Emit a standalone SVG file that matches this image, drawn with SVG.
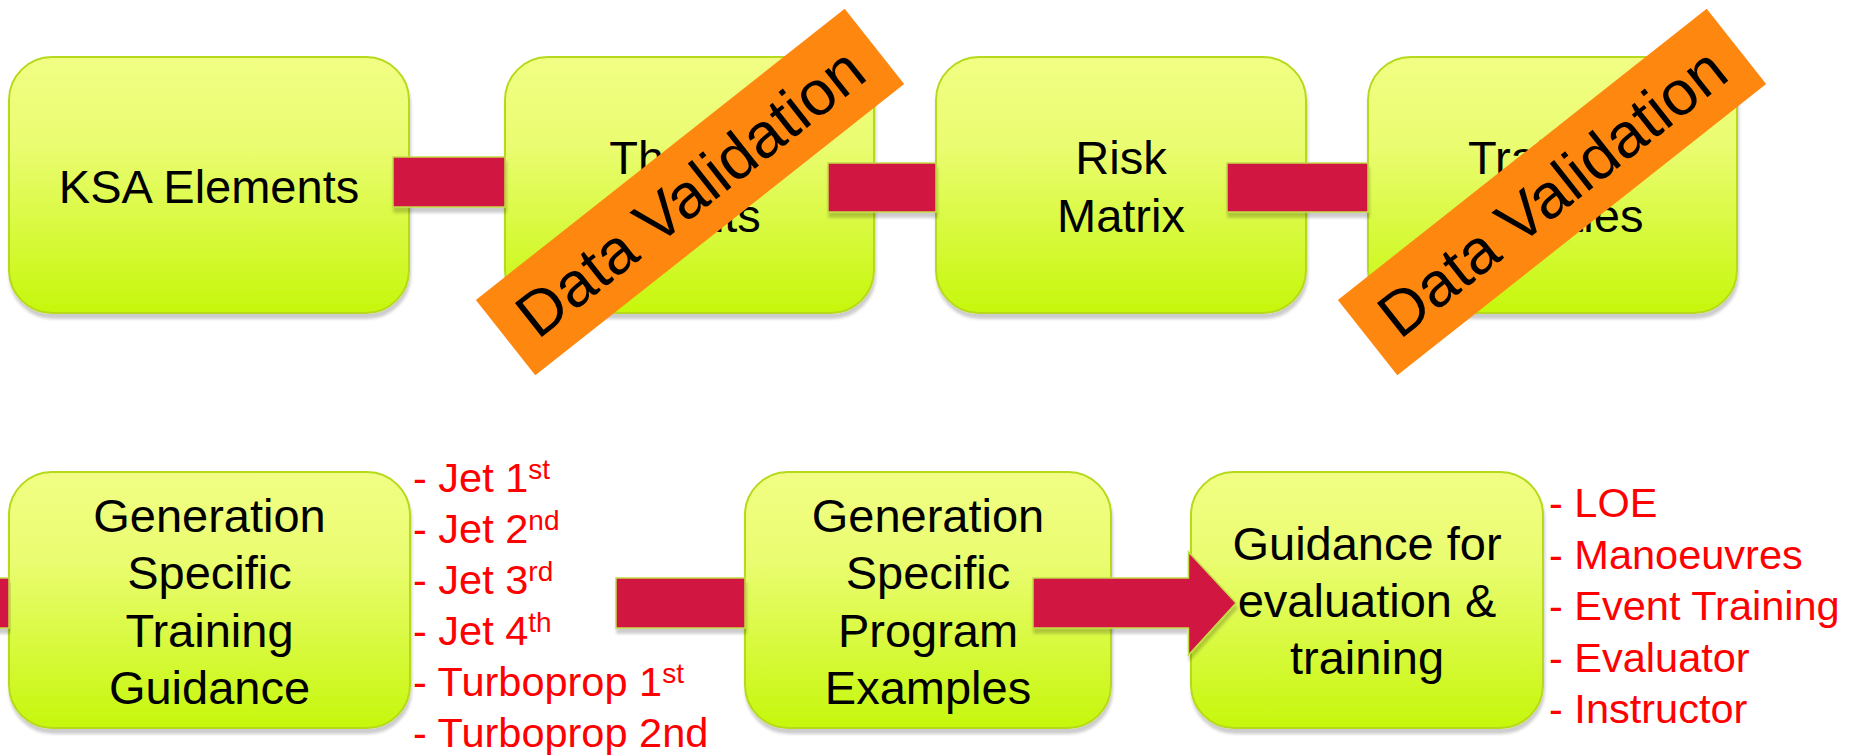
<svg xmlns="http://www.w3.org/2000/svg" width="1852" height="756" viewBox="0 0 1852 756">
<defs>
<linearGradient id="lime" x1="0" y1="0" x2="0" y2="1">
<stop offset="0" stop-color="#F1FE84"/>
<stop offset="0.35" stop-color="#EAFC70"/>
<stop offset="1" stop-color="#C6F70C"/>
</linearGradient>
<filter id="shadow" x="-10%" y="-10%" width="120%" height="130%">
<feDropShadow dx="1" dy="5" stdDeviation="1.5" flood-color="#000" flood-opacity="0.2"/>
</filter>
<style>
.box{fill:url(#lime);stroke:#B6D91A;stroke-width:2;filter:url(#shadow)}
.conn{fill:#D21242;stroke:#C3DC48;stroke-width:1.5;filter:url(#shadow)}
.banner{fill:#FE8710}
.t{font-family:"Liberation Sans",Arial,sans-serif;font-size:47px;fill:#000;text-anchor:middle}
.bt{font-family:"Liberation Sans",Arial,sans-serif;font-size:63px;fill:#000;text-anchor:middle}
.red{font-family:"Liberation Sans",Arial,sans-serif;font-size:41.5px;fill:#FF0000}
.sup{font-size:28px}
</style>
</defs>
<rect width="1852" height="756" fill="#FFFFFF"/>

<g id="node-ksa">
<rect class="box" x="9" y="57" width="400" height="256" rx="43"/>
<text class="t" x="209" y="203">KSA Elements</text>
</g>
<g id="node-threats">
<rect class="box" x="505" y="57" width="369" height="256" rx="43"/>
<text class="t" x="689" y="173.5">Threats</text>
<text class="t" x="689" y="231.5">Events</text>
</g>
<g id="node-risk">
<rect class="box" x="936" y="57" width="370" height="256" rx="43"/>
<text class="t" x="1121" y="173.5">Risk</text>
<text class="t" x="1121" y="231.5">Matrix</text>
</g>
<g id="node-training">
<rect class="box" x="1368" y="57" width="369" height="256" rx="43"/>
<text class="t" x="1552" y="173.5">Training</text>
<text class="t" x="1552" y="231.5">Priorities</text>
</g>
<g id="node-gen-guidance">
<rect class="box" x="9" y="472" width="401" height="256" rx="43"/>
<text class="t" x="209.5" y="531.5">Generation</text>
<text class="t" x="209.5" y="589">Specific</text>
<text class="t" x="209.5" y="646.5">Training</text>
<text class="t" x="209.5" y="704">Guidance</text>
</g>
<g id="node-gen-examples">
<rect class="box" x="745" y="472" width="366" height="256" rx="43"/>
<text class="t" x="928" y="531.5">Generation</text>
<text class="t" x="928" y="589">Specific</text>
<text class="t" x="928" y="646.5">Program</text>
<text class="t" x="928" y="704">Examples</text>
</g>
<g id="node-eval">
<rect class="box" x="1191" y="472" width="352" height="256" rx="43"/>
<text class="t" x="1367" y="560">Guidance for</text>
<text class="t" x="1367" y="617">evaluation &amp;</text>
<text class="t" x="1367" y="674">training</text>
</g>

<g id="connectors">
<rect class="conn" x="393" y="157" width="112" height="50"/>
<rect class="conn" x="828" y="163" width="108" height="49"/>
<rect class="conn" x="1227" y="163" width="141" height="49"/>
<rect class="conn" x="-4" y="578" width="13" height="50"/>
<rect class="conn" x="616" y="578" width="129" height="50"/>
<path class="conn" d="M1033,578 L1188.5,578 L1188.5,552 L1236,603 L1188.5,655 L1188.5,628 L1033,628 Z"/>
</g>

<g id="list-generations">
<text class="red" x="413" y="491.7">- Jet 1<tspan class="sup" dy="-12.5">st</tspan></text>
<text class="red" x="413" y="542.7">- Jet 2<tspan class="sup" dy="-12.5">nd</tspan></text>
<text class="red" x="413" y="593.7">- Jet 3<tspan class="sup" dy="-12.5">rd</tspan></text>
<text class="red" x="413" y="644.7">- Jet 4<tspan class="sup" dy="-12.5">th</tspan></text>
<text class="red" x="413" y="695.7">- Turboprop 1<tspan class="sup" dy="-12.5">st</tspan></text>
<text class="red" x="413" y="746.7">- Turboprop 2nd</text>
</g>
<g id="list-eval">
<text class="red" x="1549" y="517.3">- LOE</text>
<text class="red" x="1549" y="568.5">- Manoeuvres</text>
<text class="red" x="1549" y="620">- Event Training</text>
<text class="red" x="1549" y="671.5">- Evaluator</text>
<text class="red" x="1549" y="722.7">- Instructor</text>
</g>

<g id="banner-1" transform="translate(690,192) rotate(-38.3)">
<rect class="banner" x="-235" y="-48" width="470" height="96"/>
<text class="bt" x="0" y="22">Data Validation</text>
</g>
<g id="banner-2" transform="translate(1552,192) rotate(-38.3)">
<rect class="banner" x="-235" y="-48" width="470" height="96"/>
<text class="bt" x="0" y="22">Data Validation</text>
</g>
</svg>
